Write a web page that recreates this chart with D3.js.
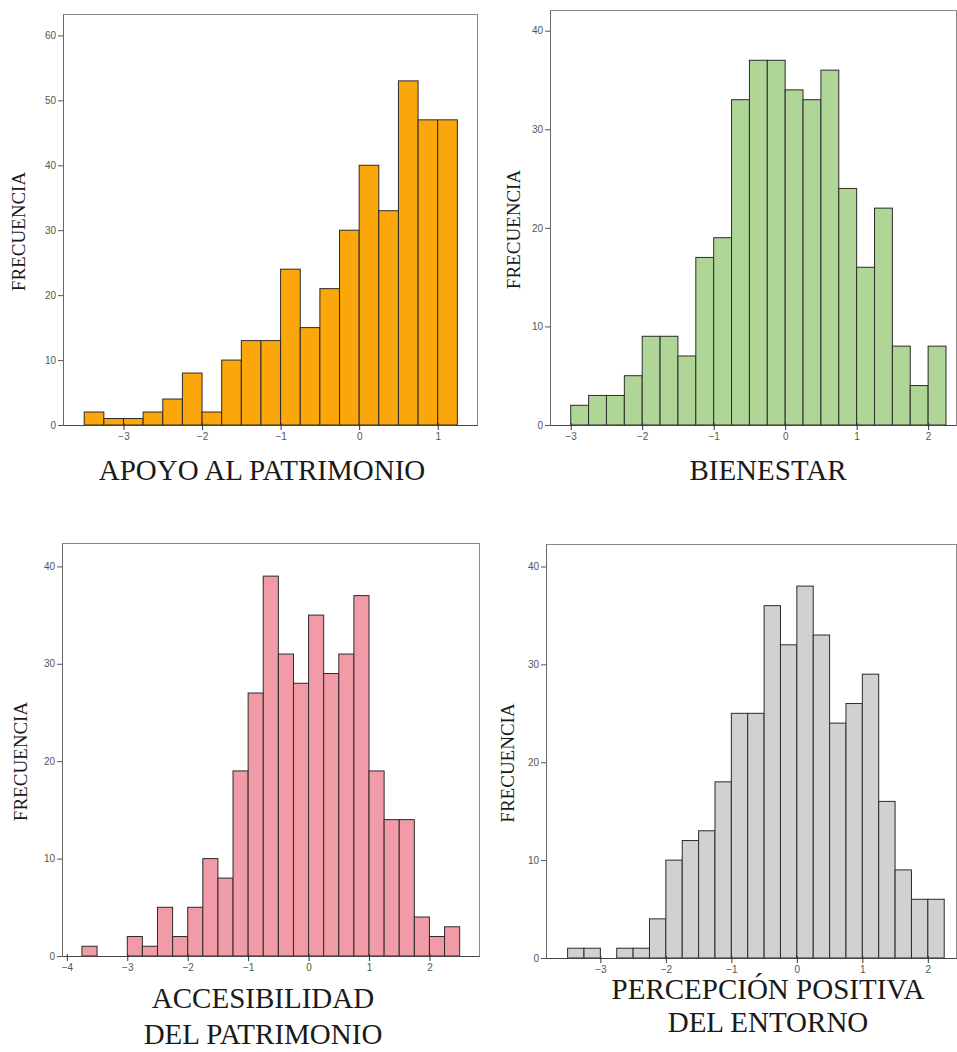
<!DOCTYPE html>
<html>
<head>
<meta charset="utf-8">
<script src="https://cdn.jsdelivr.net/npm/d3@7"></script>
<style>
  body { margin: 0; background: #fff; }
  svg { display: block; }
  .tick text { font-family: "Liberation Sans", Arial, sans-serif; font-size: 10px; fill: #555; }
  .ylab, .title { font-family: "Liberation Serif", "Times New Roman", serif; fill: #1a1a1a; }
</style>
</head>
<body>
<svg id="chart" width="957" height="1052"></svg>
<script>
// bin width shared by all four histograms
var binWidth = 0.25;

// APOYO AL PATRIMONIO
var apoyoStart = -3.5;
var apoyoCounts = [2, 1, 1, 2, 4, 8, 2, 10, 13, 13, 24, 15, 21, 30, 40, 33, 53, 47, 47];
var apoyoXTicks = [-3, -2, -1, 0, 1];
var apoyoYTicks = [0, 10, 20, 30, 40, 50, 60];

// BIENESTAR
var bienestarStart = -3;
var bienestarCounts = [2, 3, 3, 5, 9, 9, 7, 17, 19, 33, 37, 37, 34, 33, 36, 24, 16, 22, 8, 4, 8];
var bienestarXTicks = [-3, -2, -1, 0, 1, 2];
var bienestarYTicks = [0, 10, 20, 30, 40];

// ACCESIBILIDAD DEL PATRIMONIO
var accesStart = -3.75;
var accesCounts = [1, 0, 0, 2, 1, 5, 2, 5, 10, 8, 19, 27, 39, 31, 28, 35, 29, 31, 37, 19, 14, 14, 4, 2, 3];
var accesXTicks = [-4, -3, -2, -1, 0, 1, 2];
var accesYTicks = [0, 10, 20, 30, 40];

// PERCEPCIÓN POSITIVA DEL ENTORNO
var percepStart = -3.5;
var percepCounts = [1, 1, 0, 1, 1, 4, 10, 12, 13, 18, 25, 25, 36, 32, 38, 33, 24, 26, 29, 16, 9, 6, 6];
var percepXTicks = [-3, -2, -1, 0, 1, 2];
var percepYTicks = [0, 10, 20, 30, 40];

var panels = [
  {title: ["APOYO AL PATRIMONIO"], start: apoyoStart, counts: apoyoCounts,
   xTicks: apoyoXTicks, yTicks: apoyoYTicks, xDomain: [-3.77, 1.5], yMax: 63.3,
   fill: "#fba60a", box: {left: 63, right: 477, top: 14, bottom: 425},
   ylabX: 25, titleX: 262, titleY: [480]},
  {title: ["BIENESTAR"], start: bienestarStart, counts: bienestarCounts,
   xTicks: bienestarXTicks, yTicks: bienestarYTicks, xDomain: [-3.29, 2.39], yMax: 42.1,
   fill: "#afd697", box: {left: 550, right: 956, top: 10, bottom: 425},
   ylabX: 520, titleX: 768, titleY: [480]},
  {title: ["ACCESIBILIDAD", "DEL PATRIMONIO"], start: accesStart, counts: accesCounts,
   xTicks: accesXTicks, yTicks: accesYTicks, xDomain: [-4.08, 2.82], yMax: 42.4,
   fill: "#f09ba6", box: {left: 62, right: 479, top: 543, bottom: 956},
   ylabX: 27, titleX: 263, titleY: [1008, 1044]},
  {title: ["PERCEPCIÓN POSITIVA", "DEL ENTORNO"], start: percepStart, counts: percepCounts,
   xTicks: percepXTicks, yTicks: percepYTicks, xDomain: [-3.83, 2.43], yMax: 42.3,
   fill: "#d1d1d1", box: {left: 546, right: 956, top: 544, bottom: 958},
   ylabX: 514, titleX: 768, titleY: [999, 1032]}
];

var svg = d3.select("#chart");

panels.forEach(function(p) {
  var b = p.box;
  var x = d3.scaleLinear().domain(p.xDomain).range([b.left, b.right]);
  var y = d3.scaleLinear().domain([0, p.yMax]).range([b.bottom, b.top]);

  var g = svg.append("g");

  // frame
  g.append("rect")
    .attr("x", b.left + 0.5).attr("y", b.top + 0.5)
    .attr("width", b.right - b.left).attr("height", b.bottom - b.top)
    .attr("fill", "none").attr("stroke", "#8a8a8a").attr("stroke-width", 1);

  var bins = p.counts.map(function(c, i) {
    return {x0: p.start + i * binWidth, x1: p.start + (i + 1) * binWidth, count: c};
  }).filter(function(d) { return d.count > 0; });

  g.selectAll(".bar")
    .data(bins)
    .enter().append("rect")
      .attr("class", "bar")
      .attr("x", function(d) { return x(d.x0); })
      .attr("y", function(d) { return y(d.count); })
      .attr("width", function(d) { return x(d.x1) - x(d.x0); })
      .attr("height", function(d) { return y(0) - y(d.count); })
      .attr("fill", p.fill)
      .attr("stroke", "#2b2b2b")
      .attr("stroke-width", 1);

  // axes
  var xAxis = g.append("g")
    .attr("transform", "translate(0," + b.bottom + ")")
    .call(d3.axisBottom(x).tickValues(p.xTicks).tickSize(5).tickPadding(3).tickSizeOuter(0)
      .tickFormat(d3.format("d")));
  xAxis.select(".domain").attr("stroke", "#444");
  xAxis.selectAll(".tick line").attr("stroke", "#333").attr("y1", -2);

  var yAxis = g.append("g")
    .attr("transform", "translate(" + b.left + ",0)")
    .call(d3.axisLeft(y).tickValues(p.yTicks).tickSize(5).tickPadding(2).tickSizeOuter(0)
      .tickFormat(d3.format("d")));
  yAxis.select(".domain").attr("stroke", "#666");
  yAxis.selectAll(".tick line").attr("stroke", "#555");

  // y label
  g.append("text")
    .attr("class", "ylab")
    .attr("transform", "translate(" + p.ylabX + "," + ((b.top + b.bottom) / 2 + 12) + ") rotate(-90)")
    .attr("text-anchor", "middle")
    .style("font-size", "19px")
    .text("FRECUENCIA");

  // title
  p.title.forEach(function(t, i) {
    g.append("text")
      .attr("class", "title")
      .attr("x", p.titleX).attr("y", p.titleY[i])
      .attr("text-anchor", "middle")
      .style("font-size", "29px")
      .text(t);
  });
});
</script>
</body>
</html>
